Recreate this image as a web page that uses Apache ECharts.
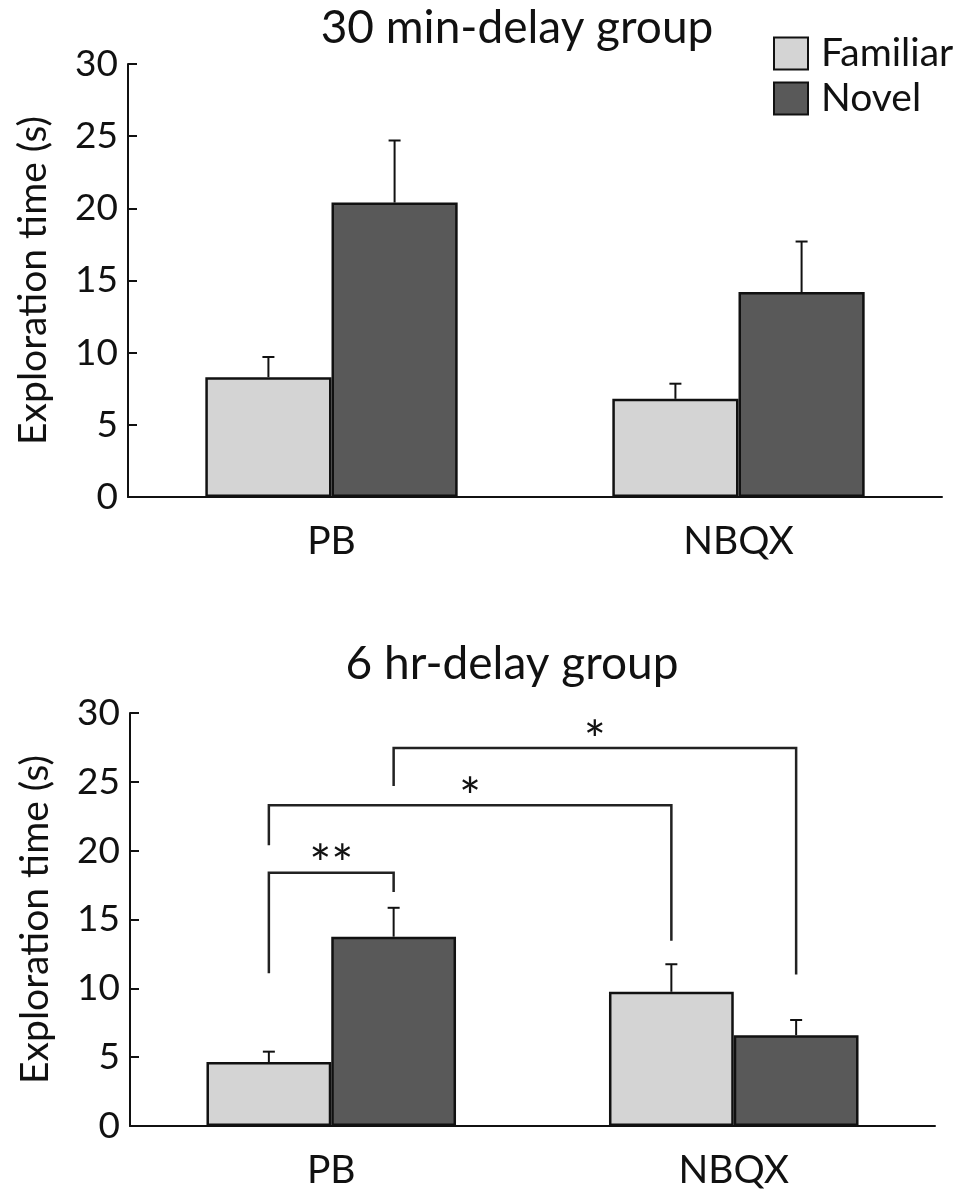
<!DOCTYPE html>
<html>
<head>
<meta charset="utf-8">
<script src="https://cdn.jsdelivr.net/npm/echarts@6/dist/echarts.min.js"></script>
<style>
  html, body { margin: 0; padding: 0; background: #fff; }
  #chart { width: 967px; height: 1198px; }
</style>
</head>
<body>
<div id="chart"></div>
<script>
// values (seconds)
const categories = ['PB', 'NBQX']
const seriesNames = ['Familiar', 'Novel']
const yTicks = [0, 5, 10, 15, 20, 25, 30]

const familiar30 = [8.3, 6.8]
const familiar30Err = [1.4, 1.05]
const novel30 = [20.4, 14.2]
const novel30Err = [4.3, 3.5]

const familiar6 = [4.65, 9.75]
const familiar6Err = [0.75, 2.0]
const novel6 = [13.75, 6.6]
const novel6Err = [2.1, 1.1]

// significance brackets, 6 hr group: [fromCat, fromSeries, toCat, toSeries]
const bracketPairs = [[0, 0, 0, 1], [0, 0, 1, 0], [0, 1, 1, 1]]
// [left leg end, bar height, right leg end]
const bracketLevels = [[11.1, 18.4, 17.0], [20.4, 23.3, 13.45], [24.7, 27.45, 11.0]]
const bracketLabels = ['**', '*', '*']

const FONT = 'Lato'
const colors = ['#d4d4d4', '#595959']
const gapRatio = 0.38

const chart = echarts.init(document.getElementById('chart'))

function barX(api, cat, s) {
  const c = api.coord([cat, 0])
  const band = api.size([1, 0])[0]
  const w = band * (1 - gapRatio) / 2
  return c[0] + (s === 0 ? -w / 2 : w / 2)
}

function errorSeries(gridIdx, means, errs, s) {
  return {
    type: 'custom',
    xAxisIndex: gridIdx,
    yAxisIndex: gridIdx,
    z: 5,
    silent: true,
    data: means.map((m, i) => [i, m, errs[i]]),
    renderItem(params, api) {
      const cat = api.value(0)
      const x = barX(api, cat, s)
      const y0 = api.coord([cat, api.value(1)])[1]
      const y1 = api.coord([cat, api.value(1) + api.value(2)])[1]
      const style = { stroke: '#111', lineWidth: 2 }
      return {
        type: 'group',
        children: [
          { type: 'line', shape: { x1: x, y1: y0, x2: x, y2: y1 }, style },
          { type: 'line', shape: { x1: x - 6, y1: y1, x2: x + 6, y2: y1 }, style }
        ]
      }
    }
  }
}

function barSeries(gridIdx, s, values) {
  return {
    name: seriesNames[s],
    type: 'bar',
    xAxisIndex: gridIdx,
    yAxisIndex: gridIdx,
    barGap: 0,
    barCategoryGap: gapRatio * 100 + '%',
    itemStyle: { color: colors[s], borderColor: '#111', borderWidth: 2.5 },
    data: values
  }
}

const bracketSeries = {
  type: 'custom',
  xAxisIndex: 1,
  yAxisIndex: 1,
  z: 6,
  silent: true,
  data: bracketLevels.map((l, i) => [bracketPairs[i][0], l[1]]),
  renderItem(params, api) {
    const i = params.dataIndex
    const p = bracketPairs[i]
    const l = bracketLevels[i]
    const xa = barX(api, p[0], p[1])
    const xb = barX(api, p[2], p[3])
    const ya = api.coord([0, l[0]])[1]
    const yt = api.coord([0, l[1]])[1]
    const yb = api.coord([0, l[2]])[1]
    return {
      type: 'group',
      children: [
        {
          type: 'polyline',
          shape: { points: [[xa, ya], [xa, yt], [xb, yt], [xb, yb]] },
          style: { stroke: '#222', lineWidth: 2.5, fill: null }
        },
        {
          type: 'text',
          style: {
            x: (xa + xb) / 2,
            y: yt + 20,
            text: bracketLabels[i],
            font: '52px ' + FONT,
            fill: '#111',
            align: 'center',
            verticalAlign: 'bottom'
          }
        }
      ]
    }
  }
}

function yAxis(gridIdx) {
  return {
    type: 'value',
    gridIndex: gridIdx,
    min: yTicks[0],
    max: yTicks[yTicks.length - 1],
    interval: yTicks[1] - yTicks[0],
    name: 'Exploration time (s)',
    nameLocation: 'middle',
    nameGap: 75,
    nameTextStyle: { fontFamily: FONT, fontSize: 39, color: '#111' },
    axisLine: { show: true, lineStyle: { color: '#111', width: 2 } },
    axisTick: { show: true, inside: true, length: 9, lineStyle: { color: '#111', width: 2 } },
    axisLabel: { fontFamily: FONT, fontSize: 37, color: '#111', margin: 10 },
    splitLine: { show: false }
  }
}

function xAxis(gridIdx) {
  return {
    type: 'category',
    gridIndex: gridIdx,
    data: categories,
    axisLine: { lineStyle: { color: '#111', width: 2 } },
    axisTick: { show: false },
    axisLabel: { fontFamily: FONT, fontSize: 39, color: '#111', margin: 25 }
  }
}

chart.setOption({
  animation: false,
  backgroundColor: '#fff',
  title: [
    {
      text: '30 min-delay group',
      left: 512, top: 0,
      textAlign: 'center',
      textStyle: { fontFamily: FONT, fontSize: 46, fontWeight: 'normal', color: '#111' }
    },
    {
      text: '6 hr-delay group',
      left: 507, top: 636,
      textAlign: 'center',
      textStyle: { fontFamily: FONT, fontSize: 46, fontWeight: 'normal', color: '#111' }
    }
  ],
  legend: {
    data: seriesNames,
    orient: 'vertical',
    left: 768,
    top: 29,
    itemWidth: 34,
    itemHeight: 32,
    itemGap: 6,
    icon: 'rect',
    textStyle: { fontFamily: FONT, fontSize: 39, color: '#111', padding: [0, 0, 0, 8] }
  },
  grid: [
    { left: 128, right: 25, top: 64, height: 433 },
    { left: 130, right: 32, top: 713, height: 413 }
  ],
  xAxis: [xAxis(0), xAxis(1)],
  yAxis: [yAxis(0), yAxis(1)],
  series: [
    barSeries(0, 0, familiar30),
    barSeries(0, 1, novel30),
    errorSeries(0, familiar30, familiar30Err, 0),
    errorSeries(0, novel30, novel30Err, 1),
    barSeries(1, 0, familiar6),
    barSeries(1, 1, novel6),
    errorSeries(1, familiar6, familiar6Err, 0),
    errorSeries(1, novel6, novel6Err, 1),
    bracketSeries
  ]
})
</script>
</body>
</html>
